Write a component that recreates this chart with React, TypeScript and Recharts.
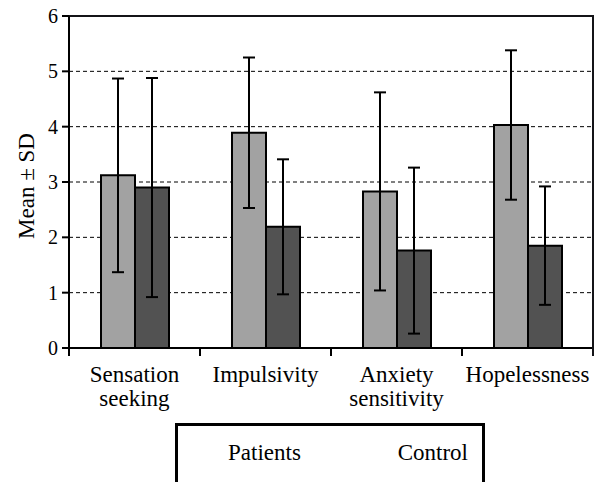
import React from "react";
import * as R from "recharts";
import {
  BarChart,
  Bar,
  XAxis,
  YAxis,
  CartesianGrid,
  ErrorBar,
  Legend,
  Label,
  ReferenceLine,
} from "recharts";

const categories = ["Sensation\nseeking", "Impulsivity", "Anxiety\nsensitivity", "Hopelessness"];
const seriesNames = ["Patients", "Control"];
const patientsMean = [3.12, 3.89, 2.83, 4.03];
const patientsSd = [1.75, 1.36, 1.79, 1.35];
const controlMean = [2.9, 2.19, 1.76, 1.85];
const controlSd = [1.98, 1.22, 1.5, 1.07];
const yTicks = [0, 1, 2, 3, 4, 5, 6];

const data = categories.map((name, i) => ({
  name,
  patients: patientsMean[i],
  patientsSd: patientsSd[i],
  control: controlMean[i],
  controlSd: controlSd[i],
}));

const WIDTH = 598;
const HEIGHT = 482;
const MARGIN = { top: 16, right: 5, left: 0, bottom: 0 };
const Y_AXIS_WIDTH = 69;
const HALF_BAND = (WIDTH - MARGIN.left - MARGIN.right - Y_AXIS_WIDTH) / categories.length / 2;
const FONT = "'Liberation Serif', 'Times New Roman', 'DejaVu Serif', 'Noto Serif', serif";
const FRAME = "rgb(20, 20, 24)";

const CategoryTick = (props: any) => {
  const { x, y, payload, index } = props;
  const lines = String(payload.value).split("\n");
  return (
    <g>
      <line x1={x - HALF_BAND} y1={y} x2={x - HALF_BAND} y2={y + 8} stroke="#000" strokeWidth={2} />
      {index === categories.length - 1 && (
        <line x1={x + HALF_BAND} y1={y - 332} x2={x + HALF_BAND} y2={y + 8} stroke={FRAME} strokeWidth={2} />
      )}
      <text x={x} y={y + 34} textAnchor="middle" style={{ fontFamily: FONT }} fontSize={23} fill="#000">
        {lines.map((line, i) => (
          <tspan key={i} x={x} dy={i === 0 ? 0 : 23.5}>
            {line}
          </tspan>
        ))}
      </text>
    </g>
  );
};

const LegendBox = (props: any) => {
  const items = [...(props.payload || [])].sort(
    (a: any, b: any) => seriesNames.indexOf(a.value) - seriesNames.indexOf(b.value),
  );
  return (
    <div
      style={{
        boxSizing: "border-box",
        width: 310,
        height: 80,
        border: "3px solid #000",
        display: "flex",
        justifyContent: "space-between",
        padding: "14px 14px 0 50px",
        fontFamily: FONT,
        fontSize: 23,
        color: "#000",
      }}
    >
      {items.map((entry: any) => (
        <span key={entry.value}>{entry.value}</span>
      ))}
    </div>
  );
};

// solid frame around the plot area
const noHook = () => null;
const usePlot: any = (R as any).usePlotArea || (R as any).useOffset || noHook;
const PlotFrame = () => {
  const area = usePlot();
  if (!area) return null;
  const left = area.x ?? area.left;
  const top = area.y ?? area.top;
  return (
    <rect x={left} y={top} width={area.width} height={area.height} fill="none" stroke={FRAME} strokeWidth={2} />
  );
};

export default function App() {
  return (
    <div style={{ position: "absolute", left: 0, top: 0, width: WIDTH, height: HEIGHT, background: "#fff" }}>
      <BarChart width={WIDTH} height={HEIGHT} data={data} margin={MARGIN} barCategoryGap={32} barGap={0}>
        <CartesianGrid vertical={false} stroke="#000" strokeWidth={1} strokeDasharray="4 3" />
        <ReferenceLine y={6} stroke={FRAME} strokeWidth={2} ifOverflow="visible" />
        <XAxis
          dataKey="name"
          height={134}
          axisLine={{ stroke: "#000", strokeWidth: 2 }}
          tickLine={false}
          tickSize={0}
          tickMargin={0}
          interval={0}
          tick={<CategoryTick />}
        />
        <YAxis
          type="number"
          domain={[0, 6]}
          ticks={yTicks}
          width={Y_AXIS_WIDTH}
          axisLine={{ stroke: "#000", strokeWidth: 2 }}
          tickLine={{ stroke: "#000", strokeWidth: 2 }}
          tickSize={7}
          tickMargin={4}
          tick={{ fill: "#000", fontSize: 20, style: { fontFamily: FONT } }}
        >
          <Label
            content={(p: any) => {
              const vb = p.viewBox || { x: 0, y: 16, height: 332 };
              const cx = vb.x + 26;
              const cy = vb.y + vb.height / 2 + 4;
              return (
                <text
                  x={cx}
                  y={cy}
                  transform={`rotate(-90, ${cx}, ${cy})`}
                  textAnchor="middle"
                  dominantBaseline="central"
                  style={{ fontFamily: FONT }}
                  fontSize={23}
                  fill="#000"
                >
                  Mean ± SD
                </text>
              );
            }}
          />
        </YAxis>
        <Legend
          layout="horizontal"
          verticalAlign="middle"
          align="center"
          width={310}
          wrapperStyle={{ position: "absolute", left: 175, top: 423 }}
          content={<LegendBox />}
        />
        <Bar dataKey="patients" name="Patients" fill="#a2a2a2" stroke="#000" strokeWidth={2} isAnimationActive={false}>
          <ErrorBar dataKey="patientsSd" width={6} stroke="#000" strokeWidth={2} direction="y" />
        </Bar>
        <Bar dataKey="control" name="Control" fill="#525252" stroke="#000" strokeWidth={2} isAnimationActive={false}>
          <ErrorBar dataKey="controlSd" width={6} stroke="#000" strokeWidth={2} direction="y" />
        </Bar>
        <PlotFrame />
      </BarChart>
    </div>
  );
}
